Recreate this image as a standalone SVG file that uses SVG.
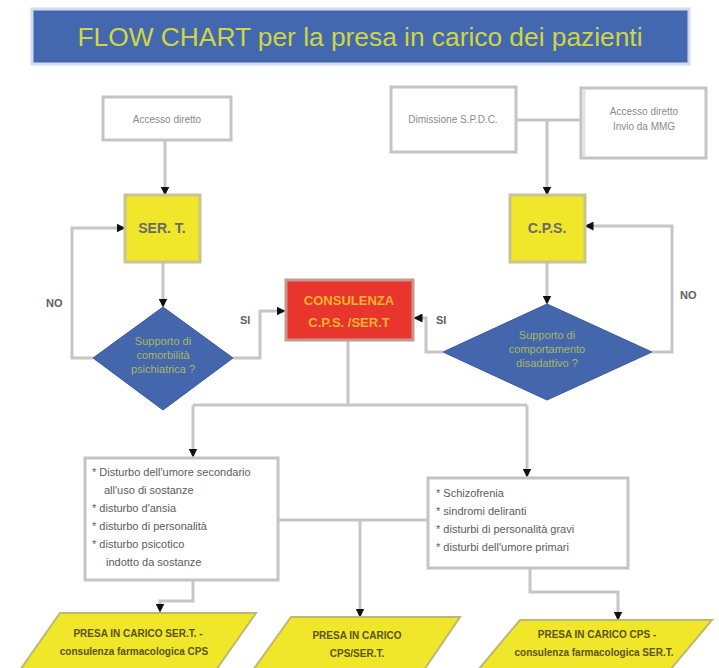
<svg xmlns="http://www.w3.org/2000/svg" width="719" height="668" viewBox="0 0 719 668">
<style>
.ln{fill:none;stroke:#c6c6c6;stroke-width:3}
.wb{fill:#fff;stroke:#c4c4c4;stroke-width:3}
.yb{fill:#f0e62a;stroke:#c8c490;stroke-width:3}
.dm{fill:#4466ad;stroke:#3a5a9e;stroke-width:1}
.pg{fill:#f0e62a;stroke:#c0b870;stroke-width:2}
.t{font-family:"Liberation Sans",Arial,sans-serif}
.g{fill:#8a8a8a;font-size:10px}
.lst{fill:#5c5c5c;font-size:11px}
.dt{fill:#a8b860;font-size:11px;text-anchor:middle}
.yt{fill:#6a6a6a;font-size:14px;text-anchor:middle;font-weight:bold}
.pt{fill:#5a5418;font-size:10px;text-anchor:middle;font-weight:bold}
.lb{fill:#606060;font-size:11px;font-weight:bold}
</style>
<defs>
<marker id="ar" viewBox="0 0 6 6" refX="5" refY="3" markerWidth="3" markerHeight="3" orient="auto-start-reverse" markerUnits="strokeWidth">
<path d="M0,0 L6,3 L0,6 z" fill="#111"/>
</marker>
</defs>

<g id="title">
<rect x="32" y="9" width="657" height="55" fill="#4468b0" stroke="#d2dbef" stroke-width="3"/>
<text x="360" y="46" class="t" font-size="25" fill="#d0d640" text-anchor="middle" textLength="565" lengthAdjust="spacingAndGlyphs">FLOW CHART per la presa in carico dei pazienti</text>
</g>

<g id="connectors">
<path class="ln" d="M165,140 V194" marker-end="url(#ar)"/>
<path class="ln" d="M516,120 H580 M547,120 V194" marker-end="url(#ar)"/>
<path class="ln" d="M163,262 V306" marker-end="url(#ar)"/>
<path class="ln" d="M547,262 V303" marker-end="url(#ar)"/>
<path class="ln" d="M93,358 H72 V228 H124" marker-end="url(#ar)"/>
<path class="ln" d="M233,358 H260 V311 H284" marker-end="url(#ar)"/>
<path class="ln" d="M652,352 H672 V226 H586" marker-end="url(#ar)"/>
<path class="ln" d="M443,352 H426 V318 H415" marker-end="url(#ar)"/>
<path class="ln" d="M348,340 V405 M193,405 H527"/>
<path class="ln" d="M193,405 V456" marker-end="url(#ar)"/>
<path class="ln" d="M527,405 V476" marker-end="url(#ar)"/>
<path class="ln" d="M278,520 H428 M360,520 V616" marker-end="url(#ar)"/>
<path class="ln" d="M193,580 V601 H160 V611" marker-end="url(#ar)"/>
<path class="ln" d="M530,568 V592 H618 V619" marker-end="url(#ar)"/>
<text x="46" y="307" class="t lb">NO</text>
<text x="240" y="324" class="t lb">SI</text>
<text x="436" y="324" class="t lb">SI</text>
<text x="680" y="299" class="t lb">NO</text>
</g>

<g id="accesso-diretto-l">
<rect class="wb" x="103" y="97" width="128" height="43"/>
<text x="167" y="123" class="t g" text-anchor="middle">Accesso diretto</text>
</g>

<g id="dimissione">
<rect class="wb" x="391" y="87" width="125" height="65"/>
<text x="453" y="123" class="t g" text-anchor="middle">Dimissione S.P.D.C.</text>
</g>

<g id="accesso-diretto-r">
<rect class="wb" x="581" y="88" width="125" height="70"/>
<line x1="584" y1="90" x2="584" y2="156" stroke="#e2e2e2" stroke-width="3"/>
<text x="644" y="115" class="t g" text-anchor="middle">Accesso diretto</text>
<text x="644" y="130" class="t g" text-anchor="middle">Invio da MMG</text>
</g>

<g id="sert">
<rect class="yb" x="125" y="195" width="75" height="67"/>
<text x="162" y="233" class="t yt">SER. T.</text>
</g>

<g id="cps">
<rect class="yb" x="510" y="195" width="75" height="67"/>
<text x="547" y="233" class="t yt">C.P.S.</text>
</g>

<g id="diamond-l">
<polygon class="dm" points="163,307 233,358 163,410 93,358"/>
<text x="163" y="345" class="t dt">Supporto di</text>
<text x="163" y="359" class="t dt">comorbilità</text>
<text x="163" y="373" class="t dt">psichiatrica ?</text>
</g>

<g id="diamond-r">
<polygon class="dm" points="547,304 652,352 547,400 443,352"/>
<text x="547" y="339" class="t dt">Supporto di</text>
<text x="547" y="353" class="t dt">comportamento</text>
<text x="547" y="367" class="t dt">disadattivo ?</text>
</g>

<g id="consulenza">
<rect x="286" y="280" width="127" height="60" fill="#e8362e" stroke="#c89890" stroke-width="3"/>
<text x="349" y="305" class="t" font-size="13" font-weight="bold" fill="#f2b42a" text-anchor="middle">CONSULENZA</text>
<text x="349" y="327" class="t" font-size="13" font-weight="bold" fill="#f2b42a" text-anchor="middle">C.P.S. /SER.T</text>
</g>

<g id="lista-l">
<rect class="wb" x="85" y="458" width="193" height="122"/>
<text class="t lst" x="92" y="476">* Disturbo dell'umore secondario</text>
<text class="t lst" x="104" y="494">all'uso di sostanze</text>
<text class="t lst" x="92" y="512">* disturbo d'ansia</text>
<text class="t lst" x="92" y="530">* disturbo di personalità</text>
<text class="t lst" x="92" y="548">* disturbo psicotico</text>
<text class="t lst" x="106" y="566">indotto da sostanze</text>
</g>

<g id="lista-r">
<rect class="wb" x="428" y="478" width="200" height="90"/>
<text class="t lst" x="436" y="497">* Schizofrenia</text>
<text class="t lst" x="436" y="515">* sindromi deliranti</text>
<text class="t lst" x="436" y="533">* disturbi di personalità gravi</text>
<text class="t lst" x="436" y="551">* disturbi dell'umore primari</text>
</g>

<g id="presa-sert">
<polygon class="pg" points="60,613 256,613 216,670 20,670"/>
<text x="138" y="637" class="t pt">PRESA IN CARICO SER.T. -</text>
<text x="134" y="655" class="t pt" font-weight="normal">consulenza farmacologica CPS</text>
</g>

<g id="presa-cps-sert">
<polygon class="pg" points="291,617 460,617 424,670 253,670"/>
<text x="357" y="639" class="t pt">PRESA IN CARICO</text>
<text x="357" y="657" class="t pt">CPS/SER.T.</text>
</g>

<g id="presa-cps">
<polygon class="pg" points="520,620 712,620 670,670 478,670"/>
<text x="597" y="638" class="t pt">PRESA IN CARICO CPS -</text>
<text x="594" y="656" class="t pt" font-weight="normal">consulenza farmacologica SER.T.</text>
</g>
</svg>
